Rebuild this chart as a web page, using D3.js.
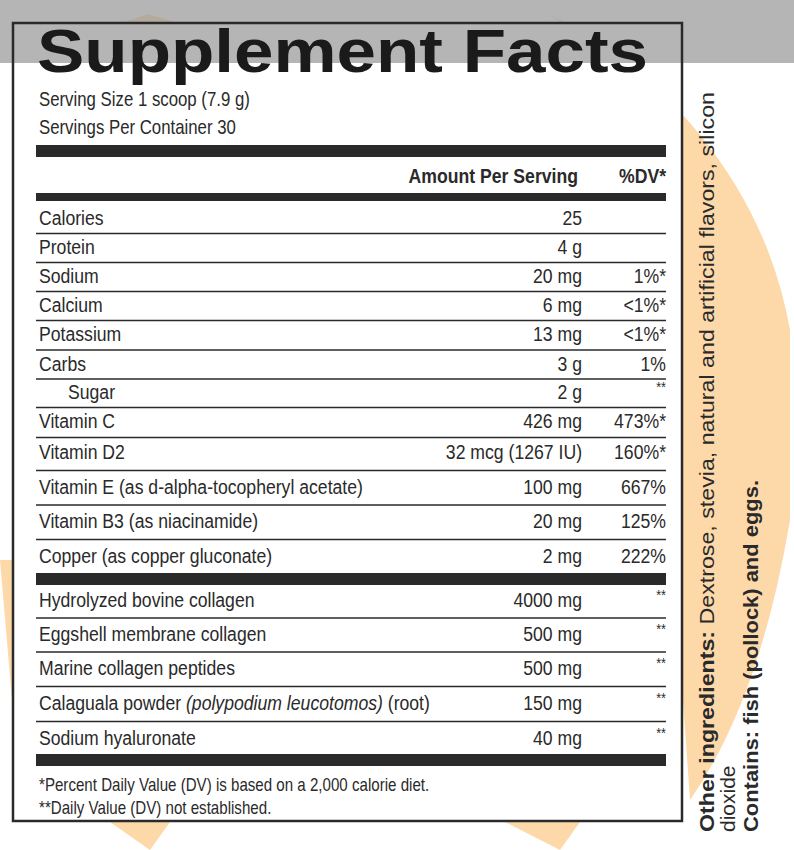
<!DOCTYPE html><html><head><meta charset="utf-8"><script src="https://cdn.jsdelivr.net/npm/d3@7"></script>
<style>body{margin:0;background:#fff}</style></head><body><script>
const nutrients=["Calories","Protein","Sodium","Calcium","Potassium","Carbs","Sugar","Vitamin C","Vitamin D2","Vitamin E (as d-alpha-tocopheryl acetate)","Vitamin B3 (as niacinamide)","Copper (as copper gluconate)"];
const amounts=["25","4 g","20 mg","6 mg","13 mg","3 g","2 g","426 mg","32 mcg (1267 IU)","100 mg","20 mg","2 mg"];
const dvs=["","","1%*","<1%*","<1%*","1%","**","473%*","160%*","667%","125%","222%"];
const rowY=[218,247,276,305,334,364,392,421,452,487,521,556];
const others=["Hydrolyzed bovine collagen","Eggshell membrane collagen","Marine collagen peptides","Calaguala powder","Sodium hyaluronate"];
const otherAmounts=["4000 mg","500 mg","500 mg","150 mg","40 mg"];
const otherY=[600,634,668,703,738];
const W=794,H=850,ink="#2a2a2a",F="'Liberation Sans',Arial,sans-serif";
const svg=d3.select("body").append("svg").attr("width",W).attr("height",H);
const peach="#fdd9a9";
svg.append("path").attr("fill",peach).attr("d","M548,14 L600,40 Q760,160 790,330 L790,520 Q760,700 690,800 L683,700 L683,100 Z");
svg.append("path").attr("fill",peach).attr("d","M148,14 L200,30 L40,240 L12,330 L12,60 Z");
svg.append("path").attr("fill",peach).attr("d","M0,560 L12,560 L12,700 Z");
svg.append("path").attr("fill",peach).attr("d","M110,822 L170,822 L150,850 Z");
svg.append("path").attr("fill",peach).attr("d","M505,822 L580,822 L560,850 Z");
svg.append("rect").attr("x",13).attr("y",23).attr("width",669).attr("height",798).attr("fill","#fff");
svg.append("rect").attr("x",0).attr("y",0).attr("width",W).attr("height",63).attr("fill","#999").attr("opacity",0.72);
svg.append("rect").attr("x",13).attr("y",23).attr("width",669).attr("height",798).attr("fill","none").attr("stroke",ink).attr("stroke-width",2.5);
svg.append("text").attr("x",37).attr("y",72).attr("font-family",F).attr("font-weight",900).attr("font-size",62).attr("textLength",611).attr("lengthAdjust","spacingAndGlyphs").attr("fill","#1a1a1a").text("Supplement Facts");
const t=(x,y,s,o={})=>svg.append("text").attr("transform",`translate(${x},${y}) scale(0.84,1)`).attr("font-family",F).attr("font-size",o.fs||21).attr("font-weight",o.fw||400).attr("text-anchor",o.a||"start").attr("fill",ink).text(s);
t(39,106,"Serving Size 1 scoop (7.9 g)",{fs:20});
t(39,134,"Servings Per Container 30",{fs:20});
const bar=(y,h)=>svg.append("rect").attr("x",36).attr("y",y).attr("width",630).attr("height",h).attr("fill",ink);
bar(145,12);bar(193,8);bar(573,12);bar(754,12);
t(578,183,"Amount Per Serving",{fw:700,a:"end",fs:21});
t(666,183,"%DV*",{fw:700,a:"end",fs:21});
const line=y=>svg.append("line").attr("x1",36).attr("x2",666).attr("y1",y).attr("y2",y).attr("stroke",ink).attr("stroke-width",1.3);
nutrients.forEach((n,i)=>{
  const y=rowY[i]+7;
  t(i==6?68:39,y,n);t(582,y,amounts[i],{a:"end"});
  if(dvs[i]=="**")t(666,y-7,"**",{a:"end",fs:15});else t(666,y,dvs[i],{a:"end"});
  if(i<11)line((rowY[i]+rowY[i+1])/2+1);
});
others.forEach((n,i)=>{
  const y=otherY[i]+7;
  const tx=t(39,y,n);
  if(i==3){tx.append("tspan").text(" ");tx.append("tspan").attr("font-style","italic").text("(polypodium leucotomos)");tx.append("tspan").text(" (root)");}
  t(582,y,otherAmounts[i],{a:"end"});t(666,y-7,"**",{a:"end",fs:15});
  if(i<4)line((otherY[i]+otherY[i+1])/2+1);
});
t(39,791,"*Percent Daily Value (DV) is based on a 2,000 calorie diet.",{fs:18});
t(39,814,"**Daily Value (DV) not established.",{fs:18});
const v=svg.append("g").attr("transform","translate(714,832) rotate(-90)");
const o=v.append("text").attr("font-family",F).attr("font-size",21).attr("fill",ink).attr("textLength",740).attr("lengthAdjust","spacingAndGlyphs");
o.append("tspan").attr("font-weight",700).text("Other ingredients: ");o.append("tspan").text("Dextrose, stevia, natural and artificial flavors, silicon");
v.append("text").attr("y",21).attr("font-family",F).attr("font-size",21).attr("fill",ink).text("dioxide");
v.append("text").attr("y",44).attr("font-family",F).attr("font-size",21).attr("font-weight",700).attr("fill",ink).attr("textLength",352).attr("lengthAdjust","spacingAndGlyphs").text("Contains: fish (pollock) and eggs.");
</script></body></html>
